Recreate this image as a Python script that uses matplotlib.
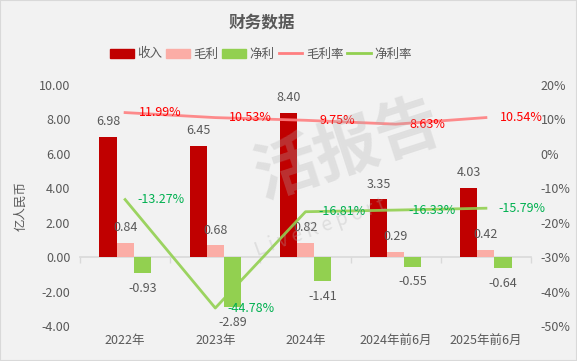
import matplotlib
matplotlib.use("Agg")
import matplotlib.pyplot as plt
import numpy as np
from matplotlib.ticker import FuncFormatter
from matplotlib.patches import Rectangle
from matplotlib.lines import Line2D

plt.rcParams['font.family'] = ['Noto Sans CJK SC', 'DejaVu Sans']
plt.rcParams['axes.unicode_minus'] = False

categories = ['2022年', '2023年', '2024年', '2024年前6月', '2025年前6月']
revenue = [6.98, 6.45, 8.40, 3.35, 4.03]
gross = [0.84, 0.68, 0.82, 0.29, 0.42]
net = [-0.93, -2.89, -1.41, -0.55, -0.64]
gross_margin = [11.99, 10.53, 9.75, 8.63, 10.54]
net_margin = [-13.27, -44.78, -16.81, -16.33, -15.79]

C_REV = '#C00000'
C_GROSS = '#FBADA6'
C_NET = '#92D050'
C_GM = '#FF7F80'
C_NM = '#92D050'
TXT = '#595959'

fig = plt.figure(figsize=(5.77, 3.61), dpi=100, facecolor='#F2F2F2')
fig.patches.append(Rectangle((0, 0), 1, 1, transform=fig.transFigure, fill=False,
                             edgecolor='#D9D9D9', linewidth=1.5, zorder=10))
ax = fig.add_axes([80/577, 1-326/361, (531-80)/577, (326-85)/361])
ax.set_facecolor('none')

x = np.arange(len(categories))
w = 0.19
b1 = ax.bar(x - w, revenue, w, color=C_REV, label='收入', zorder=2)
b2 = ax.bar(x, gross, w, color=C_GROSS, label='毛利', zorder=2)
b3 = ax.bar(x + w, net, w, color=C_NET, label='净利', zorder=2)

for bars, vals in ((b1, revenue), (b2, gross), (b3, net)):
    for r, v in zip(bars, vals):
        off = 11 if v >= 0 else -11
        ax.annotate(f'{v:.2f}', (r.get_x() + r.get_width()/2, v), xytext=(0, off),
                    textcoords='offset points', ha='center', va='center',
                    fontsize=9, color=TXT, zorder=5)

ax.set_xlim(-0.5, len(categories) - 0.5)
ax.set_ylim(-4, 10)
ax.set_yticks(np.arange(-4, 10.1, 2))
ax.yaxis.set_major_formatter(FuncFormatter(lambda v, p: f'{v:.2f}'))
ax.tick_params(axis='y', length=0, pad=7, labelsize=9, labelcolor=TXT)
ax.set_xticks(x)
ax.set_xticklabels(categories)
ax.tick_params(axis='x', length=0, pad=6, labelsize=9, labelcolor=TXT)
for s in ax.spines.values():
    s.set_visible(False)
ax.set_ylabel('亿人民币', fontsize=9, color=TXT, labelpad=8)

# zero axis line with category boundary ticks
loc0 = (0 - ax.get_ylim()[0]) / (ax.get_ylim()[1] - ax.get_ylim()[0])
sec = ax.secondary_xaxis(loc0)
sec.set_xticks(np.arange(-0.5, len(categories), 1.0))
sec.set_xticklabels([])
sec.tick_params(axis='x', direction='out', length=4, color='#D9D9D9', width=1)
sec.spines['bottom'].set_color('#D9D9D9')
sec.spines['bottom'].set_linewidth(1.2)

ax2 = ax.twinx()
ax2.set_facecolor('none')
ax2.set_ylim(-50, 20)
ax2.set_yticks(np.arange(-50, 21, 10))
ax2.yaxis.set_major_formatter(FuncFormatter(lambda v, p: f'{v:.0f}%'))
ax2.tick_params(axis='y', length=0, pad=7, labelsize=9, labelcolor=TXT)
for s in ax2.spines.values():
    s.set_visible(False)

ax2.plot(x, gross_margin, color=C_GM, lw=2, alpha=0.9, label='毛利率', zorder=3)
ax2.plot(x, net_margin, color=C_NM, lw=2, alpha=0.9, label='净利率', zorder=3)
for xi, v in zip(x, gross_margin):
    ax2.annotate(f'{v:.2f}%', (xi, v), xytext=(10, 0), textcoords='offset points',
                 ha='left', va='center', fontsize=9, color='#FF0000')
for xi, v in zip(x, net_margin):
    ax2.annotate(f'{v:.2f}%', (xi, v), xytext=(9, 0), textcoords='offset points',
                 ha='left', va='center', fontsize=9, color='#00B050')

# watermark
fig.text(348/577, 1-150/361, '活报告', fontsize=46, color='#B0B0B0', alpha=0.28,
         rotation=18, ha='center', va='center', zorder=20, fontweight='bold')
fig.text(320/577, 1-228/361, 'L i v e R e p o r t', fontsize=14, color='#B0B0B0', alpha=0.3,
         rotation=20, ha='center', va='center', zorder=20)

fig.text(262/577, 1-22/361, '财务数据', fontsize=12, fontweight='bold', color=TXT,
         ha='center', va='center')

handles = [Rectangle((0, 0), 1, 1, color=C_REV), Rectangle((0, 0), 1, 1, color=C_GROSS),
           Rectangle((0, 0), 1, 1, color=C_NET), Line2D([], [], color=C_GM, lw=2),
           Line2D([], [], color=C_NM, lw=2)]
labels = ['收入', '毛利', '净利', '毛利率', '净利率']
fig.legend(handles, labels, loc='center', bbox_to_anchor=(261/577, 1-54/361), ncol=5,
           frameon=False, fontsize=9, labelcolor=TXT, handlelength=1.9, handleheight=0.7,
           handletextpad=0.3, columnspacing=0.3, borderpad=0)

fig.savefig('out.png', dpi=100, facecolor=fig.get_facecolor())
